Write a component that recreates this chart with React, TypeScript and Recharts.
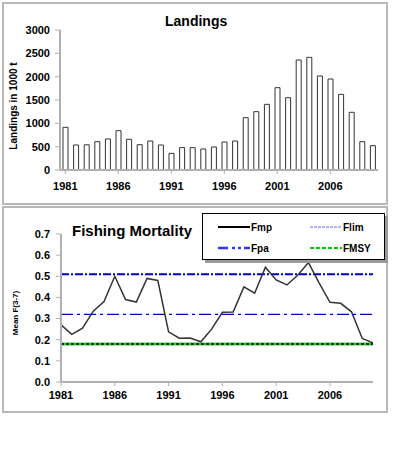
import React from 'react';
import {
  BarChart,
  Bar,
  LineChart,
  Line,
  XAxis,
  YAxis,
  ReferenceLine,
} from 'recharts';

const years = [
  1981, 1982, 1983, 1984, 1985, 1986, 1987, 1988, 1989, 1990,
  1991, 1992, 1993, 1994, 1995, 1996, 1997, 1998, 1999, 2000,
  2001, 2002, 2003, 2004, 2005, 2006, 2007, 2008, 2009, 2010,
];

// landings in 1000 t
const landings = [
  915, 536, 540, 607, 664, 843, 657, 543, 621, 536,
  357, 479, 479, 450, 493, 600, 621, 1121, 1250, 1407,
  1764, 1550, 2357, 2414, 2014, 1950, 1621, 1236, 607, 521,
];

// mean F
const fmp = [
  0.27, 0.225, 0.255, 0.335, 0.38, 0.5, 0.39, 0.378, 0.49, 0.48,
  0.237, 0.207, 0.208, 0.19, 0.25, 0.33, 0.331, 0.45, 0.42, 0.543,
  0.483, 0.459, 0.505, 0.565, 0.468, 0.377, 0.372, 0.332, 0.206, 0.185,
];

const FLIM = 0.51;
const FPA = 0.32;
const FMSY = 0.18;

const landingTicks = [0, 500, 1000, 1500, 2000, 2500, 3000];
const fTicks = [0, 0.1, 0.2, 0.3, 0.4, 0.5, 0.6, 0.7];
const yearTicks = [1981, 1986, 1991, 1996, 2001, 2006];

const FONT = '"Liberation Sans", Arial, sans-serif';
const tickStyle = { fontSize: 11, fontWeight: 700, fill: '#000', fontFamily: FONT };
const axisGray = '#b0b0b0';

const landingData = years.map((y, i) => ({ year: y, landings: landings[i] }));
const fData = years.map((y, i) => ({ year: y, fmp: fmp[i] }));

const frame = (top: number, height: number): React.CSSProperties => ({
  position: 'absolute',
  left: 2,
  top,
  width: 386,
  height,
  border: '2px solid #b8b8b8',
  boxSizing: 'border-box',
});

const LegendItem: React.FC<{ label: string; stroke: string; dash?: string; width?: number }> = ({
  label,
  stroke,
  dash,
  width = 2,
}) => (
  <div style={{ display: 'flex', alignItems: 'center', height: 20 }}>
    <svg width={32} height={6}>
      <line x1={0} y1={3} x2={32} y2={3} stroke={stroke} strokeWidth={width} strokeDasharray={dash} />
    </svg>
    <span style={{ fontSize: 10, fontWeight: 700, marginLeft: 1 }}>{label}</span>
  </div>
);

const App: React.FC = () => {
  return (
    <div style={{ position: 'absolute', left: 0, top: 0, width: 393, height: 449, background: '#fff', fontFamily: FONT }}>
      <div style={frame(2, 203)} />
      <div style={frame(206, 207)} />

      {/* Landings */}
      <div style={{ position: 'absolute', left: 0, top: 0 }}>
        <BarChart width={393} height={205} data={landingData} margin={{ top: 30, right: 15, bottom: 13, left: 0 }}>
          <XAxis
            dataKey="year"
            interval={4}
            tick={tickStyle}
            tickMargin={8}
            tickSize={4}
            height={22}
            stroke={axisGray}
            axisLine={{ stroke: axisGray, strokeWidth: 2 }}
          />
          <YAxis
            domain={[0, 3000]}
            ticks={landingTicks}
            tick={tickStyle}
            tickSize={5}
            tickMargin={5}
            width={60}
            stroke={axisGray}
            axisLine={{ stroke: axisGray, strokeWidth: 2 }}
          />
          <Bar dataKey="landings" fill="#fff" stroke="#333" strokeWidth={1} barSize={5} isAnimationActive={false} />
        </BarChart>
      </div>
      <div style={{ position: 'absolute', left: 165, top: 13, fontSize: 14, fontWeight: 700 }}>Landings</div>
      <div
        style={{
          position: 'absolute',
          left: 13,
          top: 106,
          transform: 'translate(-50%, -50%) rotate(-90deg)',
          whiteSpace: 'nowrap',
          fontSize: 10,
          fontWeight: 700,
        }}
      >
        Landings in 1000 t
      </div>

      {/* Fishing mortality */}
      <div style={{ position: 'absolute', left: 0, top: 200 }}>
        <LineChart width={393} height={212} data={fData} margin={{ top: 34, right: 20, bottom: 12, left: 0 }}>
          <XAxis
            dataKey="year"
            type="number"
            domain={[1981, 2010]}
            ticks={yearTicks}
            tick={tickStyle}
            tickSize={4}
            tickMargin={5}
            height={18}
            stroke={axisGray}
            axisLine={{ stroke: axisGray, strokeWidth: 2 }}
          />
          <YAxis
            domain={[0, 0.7]}
            ticks={fTicks}
            tickFormatter={(v: number) => v.toFixed(1)}
            tick={tickStyle}
            tickSize={5}
            tickMargin={6}
            width={61}
            stroke={axisGray}
            axisLine={{ stroke: axisGray, strokeWidth: 2 }}
          />
          <ReferenceLine y={FLIM} stroke="#0000cc" strokeWidth={2} strokeDasharray="8 2 2 2" />
          <ReferenceLine y={FPA} stroke="#0000bb" strokeWidth={1.2} strokeDasharray="12 4 3 4" />
          <ReferenceLine y={FMSY} stroke="#33cc33" strokeWidth={3} />
          <ReferenceLine y={FMSY} stroke="#000" strokeWidth={1.5} strokeDasharray="3 2" />
          <Line
            type="linear"
            dataKey="fmp"
            stroke="#333"
            strokeWidth={1.5}
            dot={false}
            isAnimationActive={false}
          />
        </LineChart>
      </div>
      <div style={{ position: 'absolute', left: 72, top: 222, fontSize: 15, fontWeight: 700 }}>Fishing Mortality</div>
      <div
        style={{
          position: 'absolute',
          left: 15,
          top: 313,
          transform: 'translate(-50%, -50%) rotate(-90deg)',
          whiteSpace: 'nowrap',
          fontSize: 8,
          fontWeight: 700,
        }}
      >
        Mean F(3-7)
      </div>

      {/* legend */}
      <div
        style={{
          position: 'absolute',
          left: 202,
          top: 213,
          width: 183,
          height: 47,
          border: '1px solid #000',
          boxShadow: '3px 3px 0 #999',
          background: '#fff',
          boxSizing: 'border-box',
          display: 'grid',
          gridTemplateColumns: '92px 80px',
          padding: '3px 0 0 15px',
        }}
      >
        <LegendItem label="Fmp" stroke="#000" width={2} />
        <LegendItem label="Flim" stroke="#9999ff" dash="3 1" width={1.5} />
        <LegendItem label="Fpa" stroke="#3333ff" dash="10 4 3 3 3 3" width={2.5} />
        <LegendItem label="FMSY" stroke="#00cc00" dash="4 2" width={2} />
      </div>
    </div>
  );
};

export default App;
